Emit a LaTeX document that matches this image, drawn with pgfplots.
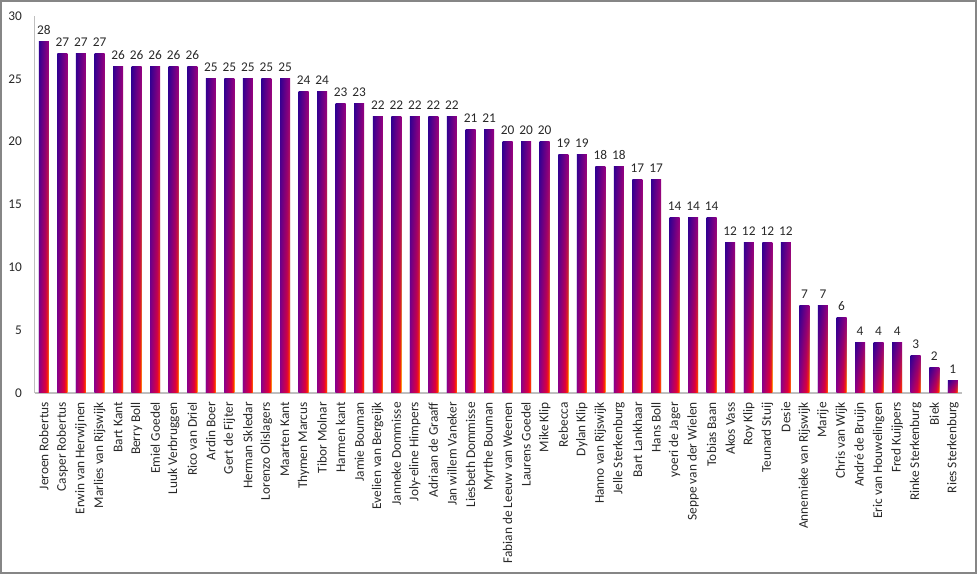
\documentclass[border=0pt]{standalone}
\usepackage{pgfplots}
\usepackage{pgfplotstable}
\pgfplotsset{compat=1.18}
\usetikzlibrary{fadings}
\usepackage{fontspec}
\setmainfont{Carlito}
\definecolor{tL}{RGB}{48,0,145}
\definecolor{tR}{RGB}{150,0,130}
\definecolor{bL}{RGB}{145,0,135}
\definecolor{bM}{RGB}{225,0,60}
\definecolor{bR}{RGB}{255,45,0}
\definecolor{bY}{RGB}{255,190,40}
\definecolor{txt}{RGB}{40,40,40}
\definecolor{axgray}{RGB}{191,191,191}
\definecolor{framegray}{RGB}{134,134,134}
\pgfdeclarehorizontalshading{bottomshade}{100bp}{color(0bp)=(bL); color(25bp)=(bL); color(58bp)=(bM); color(69bp)=(bR); color(75bp)=(bY); color(100bp)=(bY)}
\pgfplotstableread{
x y
0 28
1 27
2 27
3 27
4 26
5 26
6 26
7 26
8 26
9 25
10 25
11 25
12 25
13 25
14 24
15 24
16 23
17 23
18 22
19 22
20 22
21 22
22 22
23 21
24 21
25 20
26 20
27 20
28 19
29 19
30 18
31 18
32 17
33 17
34 14
35 14
36 14
37 12
38 12
39 12
40 12
41 7
42 7
43 6
44 4
45 4
46 4
47 3
48 2
49 1
}\datatable
\begin{document}
\begin{tikzpicture}
\useasboundingbox (0,0) rectangle (732.75pt,430.5pt);
\draw[framegray, line width=1.2pt] (0.6pt,0.6pt) rectangle (732.15pt,429.9pt);
\begin{axis}[
  at={(25.95pt,135.75pt)}, anchor=south west,
  scale only axis, width=695.6pt, height=282.75pt,
  xmin=-0.5, xmax=49.5, ymin=0, ymax=30,
  enlargelimits=false,
  axis x line*=bottom, axis y line*=left,
  axis line style={draw=axgray, line width=1pt},
  tick style={draw=none},
  ytick={0,5,...,30},
  xtick={0,...,49},
  xticklabels={Jeroen Robertus,Casper Robertus,Erwin van Herwijnen,Marlies van Rijswijk,Bart Kant,Berry Boll,Emiel Goedel,Luuk Verbruggen,Rico van Driel,Ardin Boer,Gert de Fijter,Herman Skledar,Lorenzo Olislagers,Maarten Kant,Thymen Marcus,Tibor Molnar,Harmen kant,Jamie Bouman,Evelien van Bergeijk,Janneke Dommisse,Joly-eline Himpers,Adriaan de Graaff,Jan willem Vaneker,Liesbeth Dommisse,Myrthe Bouman,Fabian de Leeuw van Weenen,Laurens Goedel,Mike Klip,Rebecca,Dylan Klip,Hanno van Rijswijk,Jelle Sterkenburg,Bart Lankhaar,Hans Boll,yoeri de Jager,Seppe van der Wielen,Tobias Baan,Akos Vass,Roy Klip,Teunard Stuij,Desie,Annemieke van Rijswijk,Marije,Chris van Wijk,André de Bruijn,Eric van Houwelingen,Fred Kuijpers,Rinke Sterkenburg,Biek,Ries Sterkenburg},
  /pgf/number format/assume math mode=true,
  tick label style={font=\fontsize{10}{12}\selectfont, text=txt, inner sep=0pt},
  xticklabel style={rotate=90, anchor=east},
  xticklabel shift=6.75pt,
  yticklabel shift=9.4pt,
]
\pgfplotsinvokeforeach{0,...,49}{
\addplot[ybar, bar width=7.5pt, bar shift=0pt, draw=none, left color=tL, right color=tR,
  restrict x to domain=#1:#1,
  nodes near coords,
  every node near coord/.append style={font=\fontsize{10}{12}\selectfont, text=txt, inner sep=0pt, anchor=south, yshift=5pt}]
  table[x=x, y=y] {\datatable};
\addplot[ybar, bar width=7.5pt, bar shift=0pt, draw=none, shading=bottomshade, path fading=north,
  restrict x to domain=#1:#1]
  table[x=x, y=y] {\datatable};
}
\end{axis}
\end{tikzpicture}
\end{document}
